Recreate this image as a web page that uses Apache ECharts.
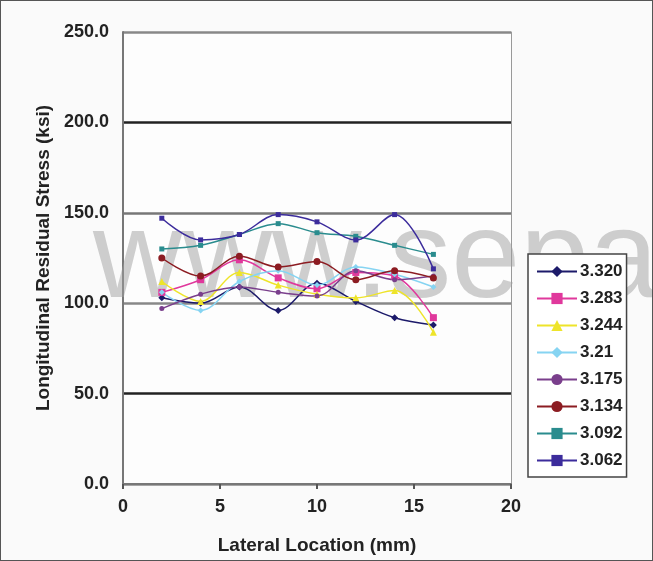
<!DOCTYPE html>
<html><head><meta charset="utf-8">
<script src="https://cdn.jsdelivr.net/npm/echarts@6/dist/echarts.min.js"></script>
<style>html,body{margin:0;padding:0;background:#fff}#c{width:653px;height:561px;box-sizing:border-box;border:1px solid #555;background:#fafafa}</style>
</head><body><div id="c"></div>
<script>
const xValues = [2, 4, 6, 8, 10, 12, 14, 16];
const seriesNames = ['3.320', '3.283', '3.244', '3.21', '3.175', '3.134', '3.092', '3.062'];
const s3320 = [103, 100, 109, 96, 111, 101, 92, 88];
const s3283 = [106, 113, 124, 114, 108, 117, 115, 92];
const s3244 = [112, 101, 117, 110, 105, 103, 107, 84];
const s321  = [106, 96, 112, 118, 110, 120, 116, 109];
const s3175 = [97, 105, 109, 106, 104, 118, 113, 115];
const s3134 = [125, 115, 126, 120, 123, 113, 118, 114];
const s3092 = [130, 132, 138, 144, 139, 137, 132, 127];
const s3062 = [147, 135, 138, 149, 145, 135, 149, 119];
const yTicks = [0, 50, 100, 150, 200, 250];
const xTicks = [0, 5, 10, 15, 20];

const allData = [s3320, s3283, s3244, s321, s3175, s3134, s3092, s3062];
const colors = ['#1c1a6a', '#e0389c', '#eee42a', '#86d4f2', '#7a3f8c', '#8c1c22', '#2a8c8e', '#3c2c9c'];
const symbols = ['diamond', 'rect', 'triangle', 'diamond', 'circle', 'circle', 'rect', 'rect'];
const sizes = [7, 7, 7, 6, 5, 7, 5, 5];
const font = '"Liberation Sans", Arial, sans-serif';

const chart = echarts.init(document.getElementById('c'));
chart.setOption({
  animation: false,
  backgroundColor: '#fafafa',
  graphic: [{
    type: 'text', left: 92, top: 200, z: 1, silent: true,
    style: { text: 'www.separ', font: 'normal 124px ' + font, fill: 'rgba(160,160,160,0.5)' }
  }],
  grid: { left: 122, right: 141, top: 31, bottom: 76, show: true, backgroundColor: '#fdfdfd', borderWidth: 0 },
  xAxis: {
    type: 'value', min: xTicks[0], max: xTicks[xTicks.length - 1], interval: 5,
    name: 'Lateral Location (mm)', nameLocation: 'middle', nameGap: 52,
    nameTextStyle: { fontFamily: font, fontWeight: 'bold', fontSize: 19, color: '#222' },
    axisLine: { lineStyle: { color: '#777', width: 2 } },
    axisTick: { show: true, length: 5, lineStyle: { color: '#555', width: 2 } },
    axisLabel: { fontFamily: font, fontWeight: 'bold', fontSize: 18, color: '#222', margin: 14 },
    splitLine: { show: false }
  },
  yAxis: [{
    type: 'value', min: yTicks[0], max: yTicks[yTicks.length - 1], interval: 50,
    name: 'Longitudinal Residual Stress (ksi)', nameLocation: 'middle', nameGap: 68,
    nameTextStyle: { fontFamily: font, fontWeight: 'bold', fontSize: 19, color: '#222' },
    axisLine: { show: true, lineStyle: { color: '#777', width: 2 } },
    axisTick: { show: false },
    axisLabel: { fontFamily: font, fontWeight: 'bold', fontSize: 18, color: '#222', margin: 14, formatter: v => v.toFixed(1) },
    splitLine: { show: true, lineStyle: { color: ['#888', '#222', '#888', '#777', '#222', '#888'], width: 2.5 } }
  }, {
    type: 'value', min: 0, max: 250, interval: 50, position: 'right',
    axisLine: { show: true, lineStyle: { color: '#999', width: 1 } },
    axisTick: { show: false }, axisLabel: { show: false }, splitLine: { show: false }
  }],
  legend: {
    orient: 'vertical', left: 527, top: 253, width: 106,
    padding: [9, 4, 8, 8], itemGap: 10, itemWidth: 40, itemHeight: 14,
    borderColor: '#444', borderWidth: 1.5, backgroundColor: '#fff',
    textStyle: { fontFamily: font, fontWeight: 'bold', fontSize: 17, color: '#222', padding: [0, 0, 0, -2] },
    data: seriesNames
  },
  series: seriesNames.map((n, i) => ({
    name: n, type: 'line', smooth: 0.35, z: 3,
    data: xValues.map((x, j) => [x, allData[i][j]]),
    symbol: symbols[i], symbolSize: sizes[i],
    itemStyle: { color: colors[i] },
    lineStyle: { color: colors[i], width: 1.5 }
  }))
});
</script></body></html>
